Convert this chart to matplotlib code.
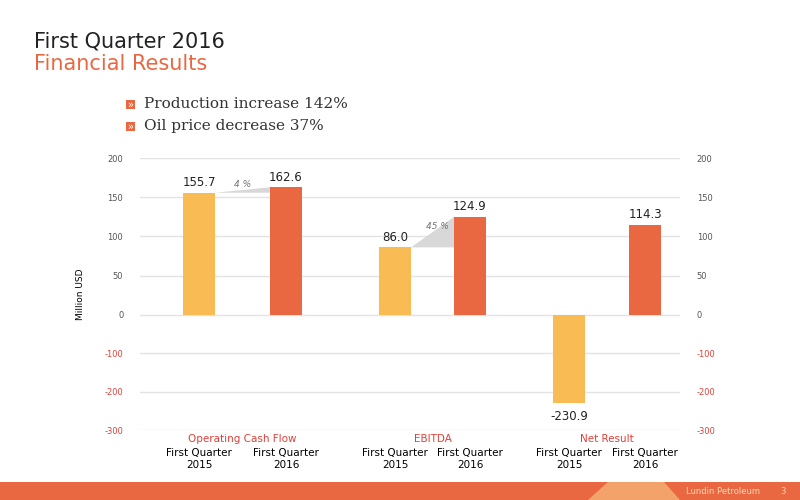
import numpy as np
import matplotlib
matplotlib.use("Agg")
import matplotlib.pyplot as plt
from matplotlib.patches import Polygon, Rectangle

# data
groups = ["Operating Cash Flow", "EBITDA", "Net Result"]
q2015 = [155.7, 86.0, -230.9]
q2016 = [162.6, 124.9, 114.3]
changes = ["4 %", "45 %", None]
bullets = ["Production increase 142%", "Oil price decrease 37%"]
yticks = [200, 150, 100, 50, 0, -100, -200, -300]

YELLOW = "#f9bc55"
ORANGE = "#ea6841"
RED = "#e0403a"
NEG = 0.49  # negative half of the axis is compressed


def fwd(y):
    y = np.asarray(y, dtype=float)
    return np.where(y >= 0, y, y * NEG)


def inv(y):
    y = np.asarray(y, dtype=float)
    return np.where(y >= 0, y, y / NEG)


fig = plt.figure(figsize=(8, 5), dpi=100)
ax = fig.add_axes([0.175, 0.14, 0.675, 0.544])
ax.set_yscale("function", functions=(fwd, inv))

x15 = [199, 395, 569]
x16 = [286, 470, 645]
w = 32
ax.set_xlim(140, 680)
ax.set_ylim(-300, 200)

ax.bar(x15, q2015, width=w, color=YELLOW, zorder=3)
ax.bar(x16, q2016, width=w, color=ORANGE, zorder=3)

for i in range(3):
    a, b = q2015[i], q2016[i]
    ya = a + 13 if a > 0 else a - 34
    ax.text(x15[i], ya, f"{a:.1f}", ha="center", va="center", fontsize=8.5, color="#222222")
    ax.text(x16[i], b + 13, f"{b:.1f}", ha="center", va="center", fontsize=8.5, color="#222222")
    if changes[i]:
        xa = x15[i] + w / 2
        xb = x16[i] - w / 2
        ax.add_patch(Polygon([(xa, a), (xb, b), (xb, a)], closed=True,
                             facecolor="#d8d8d8", edgecolor="none", zorder=2))
        ty = max(a, b) + 3 if i == 0 else b - 12
        ax.text((xa + xb) / 2 + (0 if i == 0 else 5), ty, changes[i],
                ha="center", va="center", fontsize=6.5, color="#777777", style="italic")

ax.set_yticks(yticks)
ax.set_yticklabels([str(t) for t in yticks])
ax.grid(axis="y", color="#e3e3e3", lw=1, zorder=0)
ax.tick_params(axis="y", length=0, labelsize=6, labelright=True, pad=12, colors="#555555")
ax.set_xticks([])
for s in ax.spines.values():
    s.set_visible(False)
for t in ax.yaxis.get_major_ticks():
    if t.label1.get_text().startswith("-"):
        t.label1.set_color(RED)
        t.label2.set_color(RED)
ax.set_ylabel("Million USD", fontsize=6.5, labelpad=14)

# x category labels
for i, g in enumerate(groups):
    fig.text((x15[i] + x16[i]) / 2 / 800, 1 - 439 / 500, g, ha="center", va="center",
             fontsize=7.5, color=RED)
    for xx in (x15[i], x16[i]):
        fig.text(xx / 800, 1 - 453 / 500, "First Quarter", ha="center", va="center", fontsize=7.5)
    fig.text(x15[i] / 800, 1 - 465 / 500, "2015", ha="center", va="center", fontsize=7.5)
    fig.text(x16[i] / 800, 1 - 465 / 500, "2016", ha="center", va="center", fontsize=7.5)

# title
fig.text(0.043, 1 - 42 / 500, "First Quarter 2016", fontsize=15, va="center", color="#222222")
fig.text(0.043, 1 - 64 / 500, "Financial Results", fontsize=15, va="center", color=ORANGE)

# bullets
for j, t in enumerate(bullets):
    yb = 1 - (104 + 22 * j) / 500
    fig.patches.append(Rectangle((0.1575, yb - 0.01), 0.011, 0.018, transform=fig.transFigure,
                                 facecolor=ORANGE, edgecolor="none"))
    fig.text(0.163, yb - 0.001, "»", ha="center", va="center", fontsize=7, color="white")
    fig.text(0.18, yb, t, va="center", fontsize=11, family="DejaVu Serif", color="#333333")

# footer
fig.patches.append(Rectangle((0, 0), 1, 0.036, transform=fig.transFigure,
                             facecolor=ORANGE, edgecolor="none"))
fig.patches.append(Polygon([(0.735, 0), (0.76, 0.036), (0.83, 0.036), (0.85, 0)], closed=True,
                           transform=fig.transFigure, facecolor="#f3a36a", edgecolor="none"))
fig.text(0.858, 0.018, "Lundin Petroleum", fontsize=6, color="#fbd9b5", va="center")
fig.text(0.975, 0.018, "3", fontsize=6, color="#fbd9b5", va="center")

fig.savefig("out.png", dpi=100)
